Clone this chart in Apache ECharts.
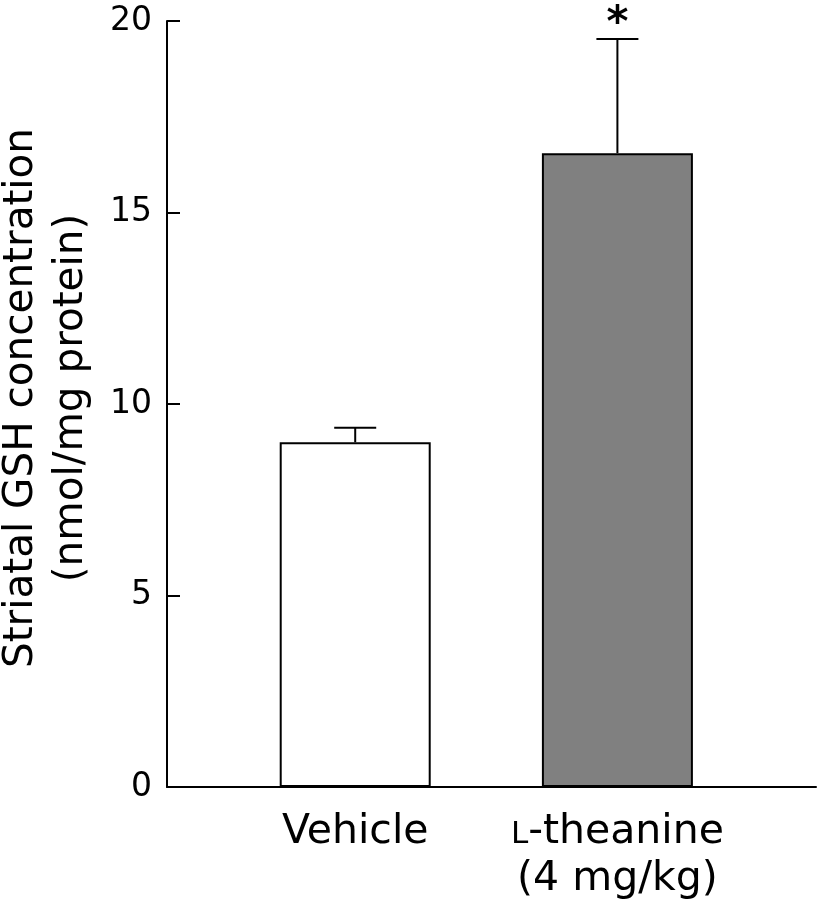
<!DOCTYPE html>
<html>
<head>
<meta charset="utf-8">
<script src="https://cdn.jsdelivr.net/npm/echarts@6/dist/echarts.min.js"></script>
<style>
  html, body { margin: 0; padding: 0; background: #fff; }
  #chart { width: 819px; height: 900px; }
</style>
</head>
<body>
<div id="chart"></div>
<script>
// data
const groups = ['Vehicle', 'L-theanine\n(4 mg/kg)']
const means = [9.0, 16.55]
const sems = [0.38, 2.98]
const marks = ['', '*']
const yTicks = [0, 5, 10, 15, 20]

// layout: where each group sits on the hidden 0..10 x scale
const slots = [2.9, 6.94]
const fills = ['#ffffff', '#808080']

const FONT = '"DejaVu Sans", Verdana, sans-serif'

const chart = echarts.init(document.getElementById('chart'))

const barData = means.map((m, i) => ({
  value: [slots[i], m],
  itemStyle: { color: fills[i] },
}))

const errData = means.map((m, i) => [slots[i], m, m + sems[i], i])

const renderError = (params, api) => {
  const x = api.value(0)
  const base = api.coord([x, api.value(1)])
  const top = api.coord([x, api.value(2)])
  const idx = api.value(3)
  const half = 21
  const children = [
    {
      type: 'line',
      shape: { x1: base[0], y1: base[1], x2: top[0], y2: top[1] },
      style: { stroke: '#000', lineWidth: 2 },
    },
    {
      type: 'line',
      shape: { x1: top[0] - half, y1: top[1], x2: top[0] + half, y2: top[1] },
      style: { stroke: '#000', lineWidth: 2 },
    },
  ]
  if (marks[idx]) {
    children.push({
      type: 'text',
      style: {
        text: marks[idx],
        x: top[0],
        y: top[1] + 7,
        align: 'center',
        verticalAlign: 'bottom',
        font: 'bold 42px ' + FONT,
        fill: '#000',
      },
    })
  }
  return { type: 'group', children }
}

const option = {
  animation: false,
  grid: { left: 167, right: 3, top: 21, bottom: 113, containLabel: false, outerBoundsMode: 'none' },
  xAxis: {
    type: 'value',
    min: 0,
    max: 10,
    splitLine: { show: false },
    axisTick: { show: false },
    axisLine: { show: true, onZero: false, lineStyle: { color: '#000', width: 2 } },
    axisLabel: {
      customValues: slots,
      margin: 22,
      color: '#000',
      fontFamily: FONT,
      fontSize: 41,
      lineHeight: 47,
      formatter: (v) => {
        const i = slots.indexOf(v)
        if (i < 0) return ''
        const txt = groups[i]
        return txt.startsWith('L-') ? '{sc|L}' + txt.slice(1) : txt
      },
      rich: {
        sc: { fontFamily: FONT, fontSize: 31, lineHeight: 40, verticalAlign: 'middle', padding: [5, 0, 0, 0], color: '#000' },
      },
    },
  },
  yAxis: {
    type: 'value',
    min: yTicks[0],
    max: yTicks[yTicks.length - 1],
    interval: yTicks[1] - yTicks[0],
    name: 'Striatal GSH concentration\n(nmol/mg protein)',
    nameLocation: 'middle',
    nameGap: 71,
    nameTextStyle: { fontFamily: FONT, fontSize: 40.5, lineHeight: 50, color: '#000', padding: [0, 0, 0, 12] },
    splitLine: { show: false },
    axisLine: { show: true, lineStyle: { color: '#000', width: 2 } },
    axisTick: { show: true, inside: true, length: 13, lineStyle: { color: '#000', width: 2 } },
    axisLabel: { color: '#000', fontFamily: FONT, fontSize: 33, margin: 15 },
  },
  series: [
    {
      type: 'bar',
      data: barData,
      barWidth: 151,
      itemStyle: { borderColor: '#000', borderWidth: 2 },
      z: 2,
    },
    {
      type: 'custom',
      data: errData,
      renderItem: renderError,
      z: 3,
    },
  ],
}

chart.setOption(option)
</script>
</body>
</html>
